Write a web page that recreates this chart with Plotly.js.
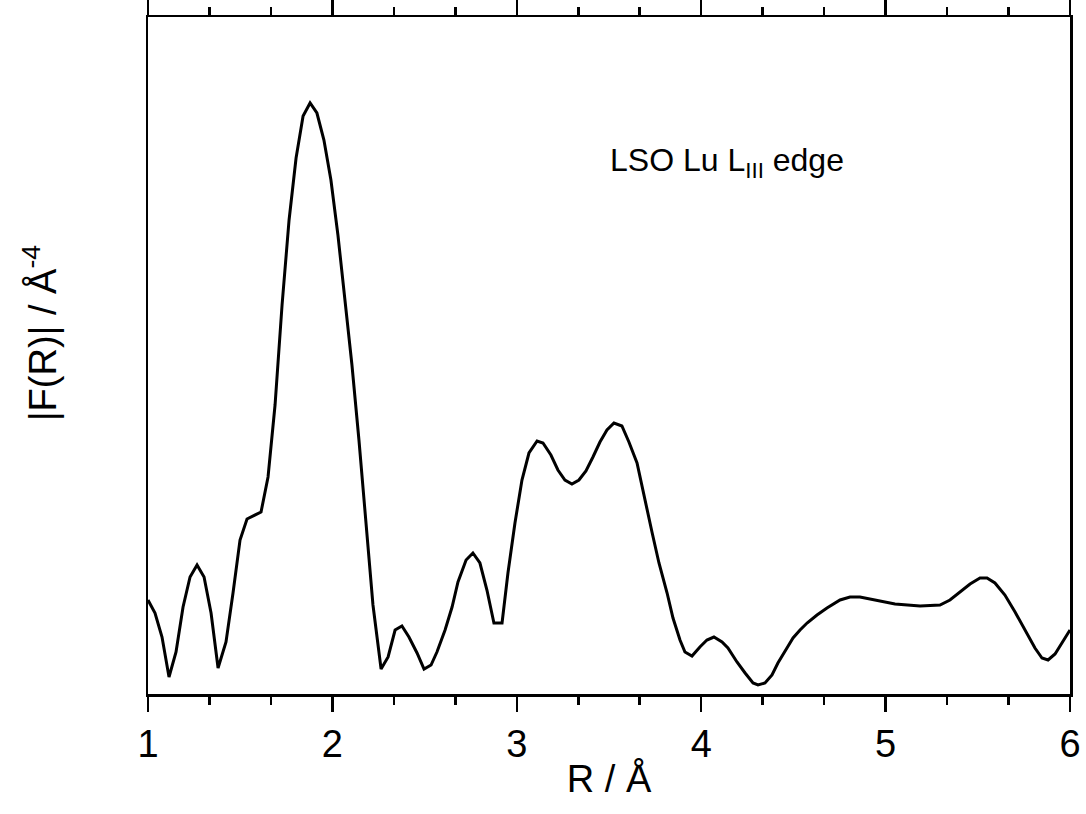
<!DOCTYPE html>
<html>
<head>
<meta charset="utf-8">
<script src="https://cdn.plot.ly/plotly-3.0.1.min.js"></script>
<style>html,body{margin:0;padding:0;background:#fff;}#chart{width:1086px;height:814px;}</style>
</head>
<body>
<div id="chart"></div>
<script>
// R in Å
const rValues = [1.000,1.038,1.076,1.114,1.152,1.190,1.228,1.266,1.304,1.342,1.380,1.423,1.461,1.499,1.537,1.613,1.651,1.689,1.727,1.765,1.803,1.841,1.879,1.916,1.954,1.992,2.030,2.068,2.106,2.144,2.182,2.220,2.264,2.302,2.340,2.377,2.415,2.459,2.497,2.535,2.567,2.611,2.649,2.681,2.725,2.762,2.800,2.838,2.876,2.920,2.952,2.990,3.028,3.066,3.110,3.142,3.185,3.223,3.261,3.299,3.337,3.375,3.413,3.451,3.489,3.527,3.570,3.608,3.652,3.690,3.733,3.771,3.815,3.847,3.885,3.912,3.950,3.993,4.031,4.069,4.113,4.145,4.194,4.238,4.281,4.308,4.346,4.384,4.416,4.465,4.498,4.536,4.574,4.628,4.682,4.753,4.807,4.861,4.943,5.051,5.187,5.295,5.349,5.404,5.458,5.512,5.550,5.593,5.647,5.702,5.756,5.810,5.848,5.881,5.919,5.957,6.000];
// |F(R)| (arbitrary units)
const fValues = [0.94,0.81,0.57,0.17,0.42,0.87,1.17,1.29,1.17,0.81,0.26,0.52,1.01,1.54,1.75,1.82,2.17,2.89,3.89,4.74,5.36,5.78,5.91,5.81,5.54,5.14,4.59,3.94,3.29,2.54,1.74,0.89,0.25,0.37,0.64,0.68,0.57,0.41,0.25,0.29,0.42,0.64,0.87,1.12,1.34,1.41,1.31,1.04,0.71,0.71,1.21,1.71,2.14,2.41,2.53,2.51,2.39,2.24,2.14,2.10,2.14,2.23,2.37,2.52,2.64,2.71,2.68,2.52,2.31,1.97,1.62,1.31,1.01,0.76,0.54,0.42,0.38,0.47,0.54,0.57,0.52,0.46,0.32,0.21,0.11,0.09,0.11,0.19,0.31,0.46,0.56,0.64,0.71,0.79,0.86,0.94,0.97,0.97,0.94,0.90,0.88,0.89,0.94,1.02,1.10,1.16,1.16,1.11,0.99,0.82,0.64,0.46,0.36,0.34,0.40,0.51,0.64];
const xTickVals = [1,2,3,4,5,6];
const xTickText = ["1","2","3","4","5","6"];
const labelText = "LSO Lu L<sub>III</sub> edge";
const xTitle = "R / Å";
const yTitle = "|F(R)| / Å<sup>-4</sup>";

const fontFam = "Arial, 'Liberation Sans', sans-serif";

const data = [
  {x: rValues, y: fValues, type: 'scatter', mode: 'lines',
   line: {color: '#000', width: 3}, hoverinfo: 'skip', showlegend: false},
  // invisible copy so that the top axis is drawn
  {x: rValues, y: fValues, xaxis: 'x2', type: 'scatter', mode: 'lines',
   line: {color: 'rgba(0,0,0,0)', width: 0}, hoverinfo: 'skip', showlegend: false}
];

const layout = {
  width: 1086, height: 814,
  margin: {l: 148, r: 16, t: 17, b: 120},
  paper_bgcolor: '#fff', plot_bgcolor: '#fff',
  font: {family: fontFam, color: '#000'},
  showlegend: false,
  xaxis: {
    domain: [0, 1], anchor: 'y',
    range: [1, 6], tickmode: 'array', tickvals: xTickVals, ticktext: xTickText,
    ticks: 'outside', ticklen: 15, tickwidth: 2.5, tickcolor: '#000',
    minor: {dtick: 1/3, tick0: 1, ticks: 'outside', ticklen: 8, tickwidth: 2.5, tickcolor: '#000', showgrid: false},
    showline: true, mirror: true, linewidth: 2.5, linecolor: '#000',
    showgrid: false, zeroline: false,
    tickfont: {size: 38, family: fontFam},
    title: {text: xTitle, font: {size: 38, family: fontFam}, standoff: 2}
  },
  xaxis2: {
    overlaying: 'x', side: 'top', anchor: 'y', range: [1, 6],
    tickmode: 'array', tickvals: xTickVals,
    ticks: 'outside', ticklen: 15, tickwidth: 2.5, tickcolor: '#000',
    minor: {dtick: 1/3, tick0: 1, ticks: 'outside', ticklen: 8, tickwidth: 2.5, tickcolor: '#000', showgrid: false},
    showline: true, linewidth: 2.5, linecolor: '#000',
    showticklabels: false, showgrid: false, zeroline: false
  },
  yaxis: {
    domain: [0, 1], anchor: 'x',
    range: [0, 6.77], showline: true, mirror: true, linewidth: 2.5, linecolor: '#000',
    ticks: '', showticklabels: false, showgrid: false, zeroline: false
  },
  annotations: [
    {x: 4.14, y: 5.32, xref: 'x', yref: 'y', text: labelText, showarrow: false,
     font: {size: 32, family: fontFam, color: '#000'}},
    {x: -0.117, y: 0.533, xref: 'paper', yref: 'paper', xanchor: 'center', yanchor: 'middle',
     text: yTitle, textangle: -90,
     showarrow: false, font: {size: 38, family: fontFam, color: '#000'}}
  ]
};

Plotly.newPlot('chart', data, layout, {staticPlot: true, displayModeBar: false});
</script>
</body>
</html>
